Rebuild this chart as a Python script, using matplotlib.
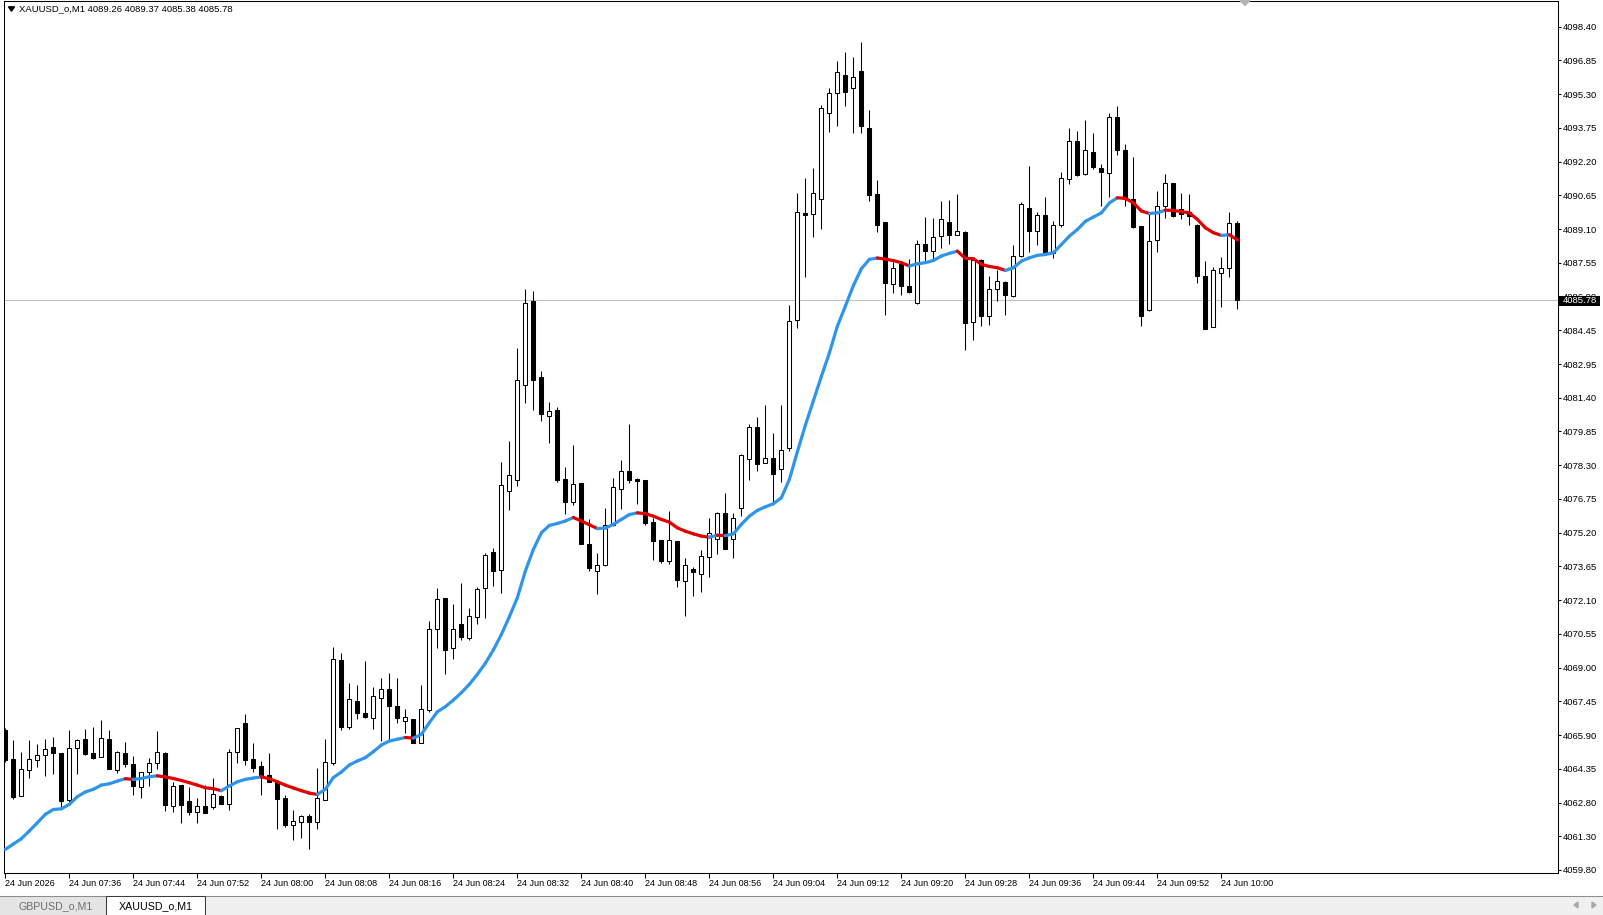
import matplotlib
matplotlib.use("Agg")
import numpy as np
import matplotlib.pyplot as plt
from matplotlib.collections import LineCollection
from matplotlib.patches import Polygon, Rectangle

W, H = 1603, 915
FONT = "Liberation Sans"
BLUE = "#2f95ea"
RED = "#e30000"

# XAUUSD M1 candles, 24 Jun 07:28 .. 10:02
opens = [
    4066.41, 4065.06, 4063.41, 4064.59, 4065.05, 4065.27, 4065.63, 4065.33, 4063.22, 4065.59,
    4065.99, 4065.33, 4065.18, 4065.99, 4064.58, 4065.33, 4064.86, 4063.83, 4064.49, 4064.91,
    4065.36, 4062.96, 4063.90, 4063.17, 4062.69, 4062.97, 4062.93, 4063.42, 4063.06, 4065.41,
    4066.69, 4065.06, 4064.75, 4064.34, 4064.05, 4063.30, 4062.11, 4062.25, 4062.52, 4062.25,
    4063.24, 4064.91, 4069.53, 4066.54, 4067.68, 4067.17, 4066.94, 4067.85, 4068.26, 4067.45,
    4066.79, 4066.87, 4065.82, 4067.29, 4070.96, 4072.33, 4070.10, 4071.15, 4070.55, 4071.50,
    4072.81, 4074.43, 4073.61, 4077.18, 4077.66, 4081.95, 4085.73, 4082.30, 4080.57, 4080.81,
    4077.73, 4076.69, 4077.52, 4074.76, 4073.57, 4073.83, 4075.64, 4077.27, 4078.09, 4077.73,
    4077.65, 4075.77, 4074.95, 4074.01, 4074.92, 4073.11, 4073.64, 4073.44, 4074.21, 4075.03,
    4076.19, 4074.99, 4076.42, 4078.60, 4080.08, 4078.45, 4078.67, 4078.15, 4079.12, 4084.87,
    4089.73, 4089.66, 4090.36, 4094.24, 4095.15, 4095.97, 4095.37, 4096.15, 4093.54, 4090.56,
    4089.31, 4086.53, 4087.40, 4086.42, 4085.67, 4088.33, 4088.02, 4088.68, 4089.33, 4088.74,
    4088.86, 4084.80, 4087.62, 4085.07, 4086.30, 4086.62, 4085.97, 4087.77, 4089.96, 4088.90,
    4089.65, 4087.92, 4089.20, 4091.26, 4092.98, 4091.46, 4092.48, 4091.76, 4091.54, 4094.06,
    4092.57, 4090.36, 4089.13, 4085.34, 4088.50, 4090.03, 4091.06, 4089.91, 4089.76, 4089.20,
    4086.90, 4084.58, 4087.02, 4087.23, 4089.26,
]
highs = [
    4066.47, 4065.92, 4065.39, 4065.92, 4065.77, 4065.96, 4066.07, 4065.35, 4066.37, 4065.99,
    4066.44, 4066.52, 4066.85, 4066.37, 4065.45, 4065.84, 4065.20, 4064.51, 4065.11, 4066.34,
    4065.38, 4064.05, 4063.92, 4063.80, 4063.33, 4063.90, 4064.24, 4063.44, 4065.54, 4066.48,
    4067.09, 4065.78, 4064.97, 4065.33, 4064.13, 4063.44, 4062.79, 4062.57, 4062.61, 4064.69,
    4065.96, 4070.15, 4069.88, 4068.49, 4068.42, 4069.49, 4068.33, 4068.73, 4068.94, 4068.73,
    4067.32, 4066.89, 4068.40, 4071.30, 4072.78, 4072.36, 4072.06, 4073.03, 4071.91, 4072.85,
    4074.39, 4074.61, 4078.48, 4079.41, 4083.61, 4086.27, 4086.22, 4082.60, 4081.20, 4080.98,
    4078.27, 4079.24, 4077.54, 4075.89, 4074.36, 4076.39, 4077.77, 4078.58, 4080.18, 4077.77,
    4077.67, 4075.97, 4074.97, 4076.27, 4074.94, 4074.13, 4073.74, 4074.49, 4075.94, 4076.24,
    4077.10, 4076.19, 4078.83, 4080.21, 4080.53, 4081.04, 4079.80, 4081.04, 4085.57, 4090.64,
    4091.31, 4091.76, 4094.59, 4095.37, 4096.58, 4097.00, 4096.77, 4097.45, 4094.35, 4091.19,
    4089.33, 4087.51, 4087.44, 4087.66, 4088.50, 4089.55, 4089.51, 4090.26, 4090.29, 4090.59,
    4088.93, 4087.67, 4087.64, 4086.87, 4087.13, 4086.64, 4088.26, 4090.23, 4091.84, 4089.78,
    4090.44, 4089.38, 4091.58, 4093.57, 4093.42, 4093.90, 4093.34, 4091.94, 4094.24, 4094.55,
    4092.85, 4092.25, 4089.15, 4089.66, 4090.71, 4091.46, 4091.08, 4090.63, 4090.59, 4089.22,
    4087.55, 4087.28, 4087.73, 4089.76, 4089.37,
]
lows = [
    4064.95, 4063.28, 4063.39, 4064.22, 4064.71, 4064.31, 4064.41, 4062.92, 4063.13, 4064.41,
    4065.28, 4065.07, 4065.16, 4064.62, 4064.46, 4064.73, 4063.45, 4063.30, 4063.86, 4064.64,
    4062.73, 4062.69, 4062.20, 4062.55, 4062.20, 4062.62, 4062.81, 4063.03, 4062.78, 4064.88,
    4064.81, 4064.49, 4063.45, 4064.02, 4061.93, 4062.02, 4061.44, 4061.53, 4061.00, 4061.90,
    4063.21, 4064.82, 4066.37, 4066.42, 4066.90, 4066.94, 4066.45, 4065.89, 4065.93, 4066.72,
    4066.27, 4065.80, 4065.80, 4067.20, 4070.10, 4068.90, 4069.61, 4070.45, 4070.45, 4071.15,
    4071.45, 4072.88, 4072.58, 4076.31, 4077.40, 4081.14, 4080.83, 4080.33, 4079.35, 4077.58,
    4076.12, 4076.54, 4074.77, 4073.56, 4072.54, 4073.81, 4075.59, 4076.34, 4077.55, 4076.57,
    4075.62, 4074.06, 4073.91, 4073.86, 4072.86, 4071.53, 4072.43, 4072.61, 4073.31, 4074.31,
    4074.54, 4074.16, 4076.04, 4077.67, 4078.07, 4078.43, 4076.65, 4077.58, 4078.97, 4084.54,
    4086.83, 4088.65, 4089.01, 4093.37, 4093.64, 4094.55, 4093.34, 4093.31, 4090.26, 4088.87,
    4085.10, 4086.12, 4086.02, 4086.11, 4085.62, 4087.55, 4087.55, 4088.12, 4088.30, 4088.72,
    4083.52, 4084.01, 4084.62, 4084.66, 4085.74, 4085.11, 4085.95, 4087.75, 4087.96, 4088.27,
    4087.91, 4087.70, 4089.10, 4091.01, 4091.38, 4091.44, 4091.73, 4090.03, 4090.44, 4092.35,
    4090.03, 4089.06, 4084.62, 4085.32, 4087.96, 4089.51, 4089.56, 4089.46, 4089.17, 4086.54,
    4084.47, 4084.56, 4085.48, 4086.83, 4085.38,
]
closes = [
    4065.02, 4063.38, 4064.61, 4065.06, 4065.27, 4065.54, 4065.35, 4063.18, 4065.56, 4065.95,
    4065.30, 4065.12, 4066.04, 4064.64, 4065.38, 4064.86, 4063.86, 4064.49, 4064.91, 4065.38,
    4063.00, 4063.86, 4063.00, 4062.69, 4062.96, 4062.64, 4063.48, 4063.05, 4065.41, 4066.46,
    4065.03, 4064.67, 4064.30, 4064.04, 4063.27, 4062.10, 4062.26, 4062.49, 4062.23, 4063.30,
    4064.96, 4069.58, 4066.54, 4067.80, 4067.17, 4066.97, 4067.91, 4068.25, 4067.47, 4066.93,
    4066.98, 4065.82, 4067.32, 4070.96, 4072.31, 4070.00, 4070.96, 4070.58, 4071.55, 4072.76,
    4074.30, 4073.56, 4077.45, 4077.91, 4082.19, 4085.68, 4082.18, 4080.64, 4080.79, 4077.67,
    4076.67, 4077.50, 4074.79, 4073.71, 4073.84, 4075.64, 4077.37, 4078.06, 4077.67, 4077.62,
    4075.74, 4074.92, 4074.01, 4074.95, 4073.16, 4073.82, 4073.52, 4074.24, 4075.26, 4076.19,
    4074.57, 4075.97, 4078.80, 4080.08, 4078.40, 4078.67, 4077.96, 4079.02, 4084.84, 4089.78,
    4089.61, 4090.64, 4094.47, 4095.15, 4096.10, 4095.18, 4095.87, 4093.64, 4090.53, 4089.20,
    4086.54, 4087.24, 4086.42, 4086.14, 4088.33, 4088.00, 4088.65, 4089.46, 4088.71, 4088.89,
    4084.75, 4087.59, 4085.07, 4086.27, 4086.65, 4086.04, 4087.79, 4090.14, 4088.93, 4089.62,
    4087.94, 4089.20, 4091.31, 4092.98, 4091.43, 4092.56, 4091.81, 4091.57, 4094.06, 4092.57,
    4090.36, 4089.08, 4085.07, 4088.48, 4090.06, 4091.06, 4089.58, 4089.66, 4089.58, 4086.87,
    4084.49, 4087.13, 4087.22, 4089.25, 4085.78,
]
# moving average line as drawn on the chart
ma = [
    4061.00, 4061.24, 4061.48, 4061.83, 4062.20, 4062.58, 4062.80, 4062.83, 4063.03, 4063.38,
    4063.59, 4063.71, 4063.90, 4063.96, 4064.08, 4064.19, 4064.16, 4064.20, 4064.28, 4064.32,
    4064.27, 4064.20, 4064.11, 4064.01, 4063.90, 4063.78, 4063.74, 4063.65, 4063.86, 4064.05,
    4064.16, 4064.22, 4064.27, 4064.19, 4064.05, 4063.90, 4063.77, 4063.65, 4063.54, 4063.48,
    4063.71, 4064.24, 4064.49, 4064.81, 4064.99, 4065.14, 4065.41, 4065.71, 4065.89, 4065.97,
    4066.05, 4066.02, 4066.19, 4066.72, 4067.21, 4067.44, 4067.74, 4068.07, 4068.45, 4068.90,
    4069.40, 4070.00, 4070.70, 4071.50, 4072.36, 4073.56, 4074.54, 4075.29, 4075.62, 4075.71,
    4075.82, 4075.98, 4075.82, 4075.65, 4075.48, 4075.50, 4075.67, 4075.89, 4076.11, 4076.19,
    4076.15, 4076.04, 4075.89, 4075.77, 4075.51, 4075.36, 4075.24, 4075.14, 4075.09, 4075.18,
    4075.16, 4075.24, 4075.67, 4076.04, 4076.30, 4076.46, 4076.60, 4076.87, 4077.70, 4078.95,
    4080.15, 4081.25, 4082.35, 4083.41, 4084.62, 4085.52, 4086.45, 4087.21, 4087.63, 4087.69,
    4087.64, 4087.57, 4087.48, 4087.33, 4087.43, 4087.48, 4087.58, 4087.78, 4087.90, 4088.00,
    4087.67, 4087.66, 4087.40, 4087.31, 4087.25, 4087.13, 4087.25, 4087.55, 4087.70, 4087.81,
    4087.85, 4087.93, 4088.30, 4088.68, 4088.98, 4089.35, 4089.54, 4089.73, 4090.18, 4090.41,
    4090.38, 4090.18, 4089.81, 4089.70, 4089.73, 4089.85, 4089.84, 4089.78, 4089.73, 4089.43,
    4089.05, 4088.83, 4088.71, 4088.74, 4088.50,
]
bid = 4085.78
header = "XAUUSD_o,M1 4089.26 4089.37 4085.38 4085.78"

price_ticks = [4098.40, 4096.85, 4095.30, 4093.75, 4092.20, 4090.65, 4089.10, 4087.55,
               4086.00, 4084.45, 4082.95, 4081.40, 4079.85, 4078.30, 4076.75, 4075.20,
               4073.65, 4072.10, 4070.55, 4069.00, 4067.45, 4065.90, 4064.35, 4062.80,
               4061.30, 4059.80]
time_labels = ["24 Jun 2026", "24 Jun 07:36", "24 Jun 07:44", "24 Jun 07:52", "24 Jun 08:00",
               "24 Jun 08:08", "24 Jun 08:16", "24 Jun 08:24", "24 Jun 08:32", "24 Jun 08:40",
               "24 Jun 08:48", "24 Jun 08:56", "24 Jun 09:04", "24 Jun 09:12", "24 Jun 09:20",
               "24 Jun 09:28", "24 Jun 09:36", "24 Jun 09:44", "24 Jun 09:52", "24 Jun 10:00"]
BARS_PER_LABEL = 8
# MT4 spaces its price labels evenly in pixels; these are the levels where the
# first and last label sit on this chart
LABEL_TOP, LABEL_BOTTOM = 4098.13, 4060.07


def fx(px):
    return px / W


def fy(py):
    return 1 - py / H


fig = plt.figure(figsize=(W / 100, H / 100), dpi=100)
fig.patch.set_facecolor("white")

ax = fig.add_axes([fx(3.5), fy(873.3), fx(1558.3) - fx(3.5), fy(1.0) - fy(873.3)])
ax.set_facecolor("white")

x = np.arange(len(opens))
o, h, l, c = map(np.array, (opens, highs, lows, closes))
up = c >= o

ax.axhline(bid, color="#c0c0c0", lw=0.75, zorder=1)
ax.vlines(x, l, h, color="black", lw=0.75, zorder=2)
ax.bar(x, np.maximum(np.abs(c - o), 0.02), bottom=np.minimum(o, c), width=0.5,
       color=np.where(up, "white", "black"), edgecolor="black", linewidth=0.75, zorder=3)

m = np.array(ma)
pts = np.column_stack([x, m])
segs = np.stack([pts[:-1], pts[1:]], axis=1)
seg_cols = np.where(np.diff(m) >= 0, BLUE, RED)
ax.add_collection(LineCollection(segs, colors=seg_cols, linewidths=2.3,
                                 capstyle="round", joinstyle="round", zorder=4))

ax.set_xlim(-0.225, 194.1)
ax.set_ylim(4059.92, 4099.29)

ax.yaxis.tick_right()
ax.set_yticks(np.linspace(LABEL_TOP, LABEL_BOTTOM, len(price_ticks)))
ax.set_yticklabels([f"{v:.2f}" for v in price_ticks])
ax.tick_params(axis="y", length=2, width=0.75, pad=1.5, labelsize=6.8, direction="out")
ax.set_xticks(x[::BARS_PER_LABEL])
ax.set_xticklabels(time_labels, ha="left")
ax.tick_params(axis="x", length=3.3, width=0.75, pad=0.8, labelsize=6.5, direction="out")
for lab in ax.get_xticklabels() + ax.get_yticklabels():
    lab.set_fontfamily(FONT)
for s in ax.spines.values():
    s.set_linewidth(0.75)
    s.set_color("black")

# header: symbol + last bar OHLC
fig.add_artist(Polygon([[fx(8.5), fy(6.8)], [fx(14.5), fy(6.8)], [fx(11.5), fy(11.2)]],
                       closed=True, transform=fig.transFigure, color="black"))
fig.text(fx(19.3), fy(9.2), header, fontsize=6.8, family=FONT, ha="left", va="center")

# chart-shift marker at the top
fig.add_artist(Polygon([[fx(1240), fy(0.5)], [fx(1250), fy(0.5)], [fx(1245), fy(5.5)]],
                       closed=True, transform=fig.transFigure, color="#b4b4b4"))

# bid price box on the price scale
fig.add_artist(Rectangle((fx(1559), fy(306)), fx(41), 10.5 / H, transform=fig.transFigure,
                         facecolor="black", edgecolor="none", zorder=5))
fig.text(fx(1579.5), fy(300.8), f"{bid:.2f}", color="white", fontsize=6.8, family=FONT,
         ha="center", va="center", zorder=6)

# tab bar
fig.add_artist(Rectangle((0, 0), 1, fy(895.5), transform=fig.transFigure,
                         facecolor="#f0f0f0", edgecolor="none", zorder=5))
fig.add_artist(Rectangle((0, 0), fx(106.5), fy(896), transform=fig.transFigure,
                         facecolor="#e4e4e4", edgecolor="none", zorder=5))
fig.add_artist(plt.Line2D([0, 1], [fy(895.5), fy(895.5)], transform=fig.transFigure,
                          color="#8c8c8c", lw=0.75, zorder=6))
fig.add_artist(Rectangle((fx(106.5), fy(914.5)), fx(99), (914.5 - 895.5) / H,
                         transform=fig.transFigure, facecolor="white",
                         edgecolor="#3c3c3c", lw=0.75, zorder=7))
fig.text(fx(56), fy(906.5), "GBPUSD_o,M1", color="#6e6e6e", fontsize=7.7, family=FONT,
         ha="center", va="center", zorder=8)
fig.text(fx(156), fy(906.5), "XAUUSD_o,M1", color="black", fontsize=7.7, family=FONT,
         ha="center", va="center", zorder=8)
fig.add_artist(Polygon([[fx(1574), fy(905)], [fx(1578), fy(902)], [fx(1578), fy(908)]],
                       closed=True, transform=fig.transFigure, color="#a8a8a8", zorder=8))
fig.add_artist(Polygon([[fx(1596), fy(905)], [fx(1592), fy(902)], [fx(1592), fy(908)]],
                       closed=True, transform=fig.transFigure, color="#a8a8a8", zorder=8))

fig.savefig("out.png", dpi=100, facecolor="white")
plt.close(fig)
